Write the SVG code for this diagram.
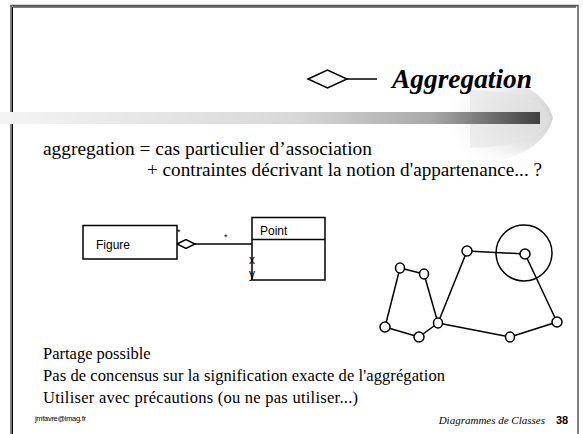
<svg xmlns="http://www.w3.org/2000/svg" width="583" height="434" viewBox="0 0 583 434">
<defs>
<linearGradient id="bar" x1="0" y1="0" x2="1" y2="0">
<stop offset="0" stop-color="#f4f4f4"/>
<stop offset="0.55" stop-color="#d8d8d8"/>
<stop offset="0.8" stop-color="#a8a8a8"/>
<stop offset="1" stop-color="#404040"/>
</linearGradient>
<radialGradient id="halo" cx="0.85" cy="0.5" r="0.6" fx="0.95" fy="0.5">
<stop offset="0" stop-color="#c4c4c4"/>
<stop offset="0.5" stop-color="#e2e2e2"/>
<stop offset="1" stop-color="#ffffff" stop-opacity="0"/>
</radialGradient>
<style>
.ln{stroke:#000;stroke-width:1.5;fill:none}
.nd{stroke:#000;stroke-width:1.5;fill:#fff}
.tm{font-family:"Liberation Serif",serif;fill:#000}
.ar{font-family:"Liberation Sans",Arial,sans-serif;fill:#000}
.box{fill:#fff;stroke:#000;stroke-width:1.5}
</style>
</defs>
<rect x="0" y="0" width="583" height="434" fill="#fff"/>
<path d="M11 440 V5.5 H578 V440" fill="none" stroke="#555" stroke-width="1.5"/>
<path d="M12.5 440 V7 H576" fill="none" stroke="#000" stroke-width="1"/>
<g id="decor">
<path d="M400 68 Q540 66 553 118 Q540 168 430 168 Z" fill="url(#halo)" opacity="0.8"/>
<path d="M470 90 Q545 92 550 118 Q545 146 470 148 Z" fill="#e4e4e4" opacity="0.6"/>
<rect x="0" y="112" width="540" height="12" fill="url(#bar)"/>
<path d="M308 79 L327.5 70 L347 79 L327.5 88 Z" class="ln"/>
<line x1="347" y1="79" x2="377" y2="79" class="ln"/>
<text x="392" y="88" class="tm" font-size="27" font-weight="bold" font-style="italic" textLength="140" lengthAdjust="spacingAndGlyphs">Aggregation</text>
</g>
<text x="43" y="155" class="tm" font-size="18.5" textLength="329" lengthAdjust="spacingAndGlyphs">aggregation =  cas particulier d’association</text>
<text x="147" y="176" class="tm" font-size="18.5" textLength="395" lengthAdjust="spacingAndGlyphs">+ contraintes décrivant la notion d'appartenance... ?</text>
<g id="connectors">
<line x1="195" y1="244" x2="252" y2="244" class="ln"/>
<path d="M177 244 L186 239.5 L195 244 L186 248.5 Z" class="ln" fill="#fff"/>
<text x="177" y="235" class="ar" font-size="9">*</text>
<text x="224" y="240" class="ar" font-size="9">*</text>
</g>
<g id="figure">
<rect x="83" y="225.5" width="94" height="33.5" class="box"/>
<text x="96" y="249" class="ar" font-size="12">Figure</text>
</g>
<g id="point">
<rect x="252" y="217.5" width="73" height="62.5" class="box"/>
<line x1="252" y1="239.5" x2="325" y2="239.5" class="ln"/>
<text x="260" y="235" class="ar" font-size="12">Point</text>
<text x="249" y="264" class="ar" font-size="12">x</text>
<text x="249" y="278" class="ar" font-size="12">y</text>
</g>
<g id="graph">
<g class="ln">
<line x1="400" y1="268" x2="424" y2="274"/>
<line x1="400" y1="268" x2="385" y2="327"/>
<line x1="385" y1="327" x2="419" y2="337"/>
<line x1="419" y1="337" x2="438" y2="323"/>
<line x1="424" y1="274" x2="438" y2="323"/>
<line x1="438" y1="323" x2="467" y2="251"/>
<line x1="467" y1="251" x2="525" y2="254"/>
<line x1="525" y1="254" x2="557" y2="322"/>
<line x1="557" y1="322" x2="510" y2="337"/>
<line x1="510" y1="337" x2="438" y2="323"/>
<circle cx="524" cy="253" r="28"/>
</g>
<g class="nd">
<ellipse cx="400" cy="268" rx="4.5" ry="5"/>
<ellipse cx="424" cy="274" rx="4.5" ry="5"/>
<ellipse cx="385" cy="327" rx="5" ry="5"/>
<ellipse cx="419" cy="337" rx="5" ry="5"/>
<ellipse cx="438" cy="323" rx="4.5" ry="5"/>
<ellipse cx="467" cy="251" rx="5" ry="5"/>
<ellipse cx="525" cy="254" rx="5" ry="5"/>
<ellipse cx="510" cy="337" rx="4.5" ry="5"/>
<ellipse cx="557" cy="322" rx="5" ry="5"/>
</g>
</g>
<text x="43" y="359" class="tm" font-size="16.5">Partage possible</text>
<text x="43" y="381" class="tm" font-size="16.5" textLength="402" lengthAdjust="spacing">Pas de concensus sur la signification exacte de l'aggrégation</text>
<text x="43" y="403" class="tm" font-size="16.5" textLength="315" lengthAdjust="spacing">Utiliser avec précautions (ou ne pas utiliser...)</text>
<text x="35" y="421" class="ar" font-size="7.5" letter-spacing="-0.3">jmfavre@imag.fr</text>
<text x="545" y="424" class="tm" font-size="11" font-style="italic" text-anchor="end">Diagrammes de Classes</text>
<text x="556" y="424" class="ar" font-size="11" font-weight="bold">38</text>
</svg>
